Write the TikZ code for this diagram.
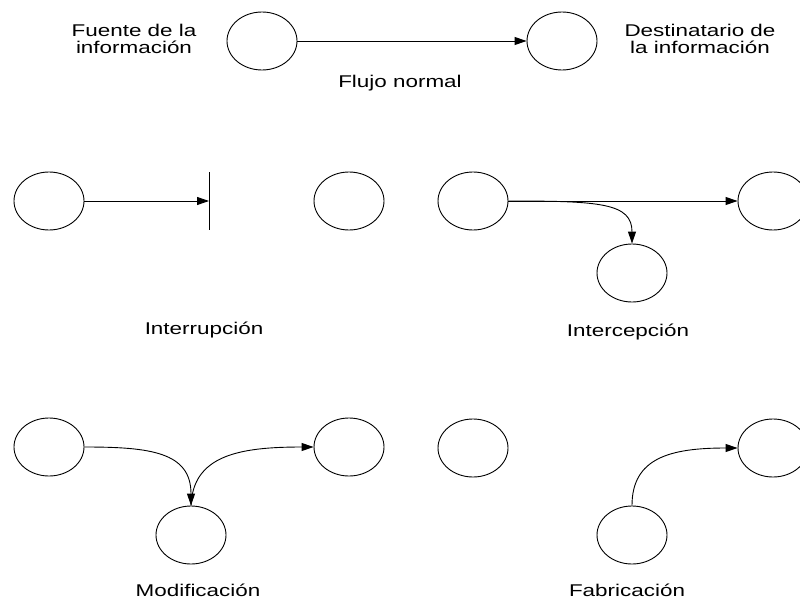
\documentclass[tikz,border=0pt]{standalone}
\usepackage{fontspec}
\setmainfont{Liberation Sans}[FakeStretch=1.32]
\usetikzlibrary{arrows.meta,shapes.geometric}
\begin{document}
\begin{tikzpicture}[x=1pt,y=-1pt,
  party/.style={draw, ellipse, minimum width=70pt, minimum height=58pt, inner sep=0pt, line width=0.9pt},
  lbl/.style={font=\fontsize{17}{17}\selectfont, align=center, inner sep=0pt},
  flow/.style={line width=0.9pt, -{Triangle[length=12pt,width=8pt]}},
  plain/.style={line width=0.9pt}]
\useasboundingbox (0,0) rectangle (800,599);
% Flujo normal
\node[party] (a1) at (262,41) {};
\node[party] (b1) at (562,41) {};
\draw[flow] (a1.east) -- (b1.west);
\node[lbl] (tfuente) at (134,39) {Fuente de la\\información};
\node[lbl] (tdest) at (700,39) {Destinatario de\\la información};
\node[lbl] (tflujo) at (400,83) {Flujo normal};
% Interrupcion
\node[party] (c2) at (49,201) {};
\node[party] (d2) at (349,201) {};
\coordinate (bar) at (209,201);
\coordinate (bartop) at (209,172);
\coordinate (barbot) at (209,230);
\draw[flow] (c2.east) -- (bar);
\draw[plain] (bartop) -- (barbot);
\node[lbl] (tinterr) at (204,330) {Interrupción};
% Intercepcion
\node[party] (e2) at (473,201) {};
\node[party] (f2) at (773,201) {};
\node[party] (g2) at (632,273) {};
\draw[flow] (e2.east) -- (f2.west);
\draw[flow] (e2.east) .. controls (600,201) and (632,203) .. (g2.north);
\node[lbl] (tinterc) at (628,332) {Intercepción};
% Modificacion
\node[party] (h3) at (49,447) {};
\node[party] (i3) at (349,447) {};
\node[party] (j3) at (191,535) {};
\draw[flow] (h3.east) .. controls (150,447) and (191,452) .. (j3.north);
\draw[flow] (j3.north) .. controls (193,455) and (240,447) .. (i3.west);
\node[lbl] (tmod) at (198,590) {Modificación};
% Fabricacion
\node[party] (k3) at (473,448) {};
\node[party] (l3) at (773,448) {};
\node[party] (m3) at (632,535) {};
\draw[flow] (m3.north) .. controls (632,458) and (670,448) .. (l3.west);
\node[lbl] (tfab) at (627,590) {Fabricación};
\end{tikzpicture}
\end{document}
